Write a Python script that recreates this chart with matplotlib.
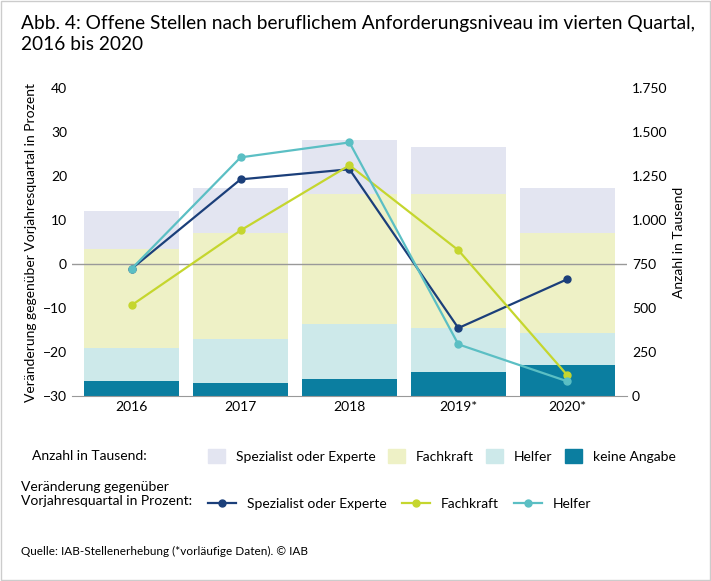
import matplotlib.pyplot as plt
from matplotlib.lines import Line2D
from matplotlib.patches import Patch
import numpy as np

plt.rcParams['font.family'] = ['Lato', 'DejaVu Sans']

years = ['2016', '2017', '2018', '2019*', '2020*']
# Anzahl in Tausend (stacked)
keine_angabe = [88, 75, 100, 137, 175]
helfer_n = [187, 250, 312, 250, 187]
fachkraft_n = [562, 600, 738, 763, 563]
spezialist_n = [213, 258, 308, 267, 258]
# Veraenderung in Prozent
spez_pct = [-1.0, 19.3, 21.6, -14.5, -3.4]
fach_pct = [-9.3, 7.7, 22.5, 3.2, -25.2]
helf_pct = [-1.0, 24.3, 27.7, -18.2, -26.6]

c_spez_bar, c_fach_bar, c_helf_bar, c_keine = '#e3e5f1', '#eef1c6', '#cde9ea', '#0b7ea0'
c_spez, c_fach, c_helf = '#1b3f7a', '#c5d62e', '#5bbfc4'

fig = plt.figure(figsize=(7.11, 5.81), dpi=100)
ax = fig.add_axes([0.101, 0.318, 0.781, 0.530])
ax2 = ax.twinx()
x = np.arange(len(years))
w = 0.87
bottom = np.zeros(len(years))
for vals, col in [(keine_angabe, c_keine), (helfer_n, c_helf_bar),
                  (fachkraft_n, c_fach_bar), (spezialist_n, c_spez_bar)]:
    ax2.bar(x, vals, w, bottom=bottom, color=col, zorder=1)
    bottom += np.array(vals)
ax2.set_ylim(0, 1750)
ax2.set_yticks(range(0, 1751, 250))
ax2.set_yticklabels([f'{v:,}'.replace(',', '.') for v in range(0, 1751, 250)])
ax2.set_ylabel('Anzahl in Tausend', fontsize=10)

ax.set_zorder(ax2.get_zorder() + 1)
ax.patch.set_visible(False)
ax.axhline(0, color='#999999', lw=1)
for vals, col in [(spez_pct, c_spez), (fach_pct, c_fach), (helf_pct, c_helf)]:
    ax.plot(x, vals, color=col, marker='o', ms=5, lw=1.6)
ax.set_ylim(-30, 40)
ax.set_xlim(-0.55, 4.55)
ax.set_xticks(x)
ax.set_xticklabels(years)
ax.set_ylabel('Veränderung gegenüber Vorjahresquartal in Prozent', fontsize=10)
for a in (ax, ax2):
    for s in a.spines.values():
        s.set_visible(False)
    a.tick_params(length=0, labelsize=10)
ax.spines['bottom'].set_visible(True)
ax.spines['bottom'].set_color('#999999')

fig.text(0.03, 0.975, 'Abb. 4: Offene Stellen nach beruflichem Anforderungsniveau im vierten Quartal,\n2016 bis 2020',
         fontsize=13.8, va='top', linespacing=1.35)

h1 = [Patch(color=c) for c in (c_spez_bar, c_fach_bar, c_helf_bar, c_keine)]
fig.text(0.045, 0.215, 'Anzahl in Tausend:', fontsize=10, va='center')
fig.legend(h1, ['Spezialist oder Experte', 'Fachkraft', 'Helfer', 'keine Angabe'],
           loc='center left', bbox_to_anchor=(0.275, 0.215), ncol=4, frameon=False,
           fontsize=10, handlelength=1.2, handleheight=1.2, columnspacing=0.9)
fig.text(0.03, 0.15, 'Veränderung gegenüber\nVorjahresquartal in Prozent:', fontsize=10, va='center')
h2 = [Line2D([], [], color=c, marker='o', ms=5, lw=1.6) for c in (c_spez, c_fach, c_helf)]
fig.legend(h2, ['Spezialist oder Experte', 'Fachkraft', 'Helfer'],
           loc='center left', bbox_to_anchor=(0.275, 0.133), ncol=3, frameon=False,
           fontsize=10, handlelength=2.0, columnspacing=1.1)
fig.text(0.03, 0.045, 'Quelle: IAB-Stellenerhebung (*vorläufige Daten). © IAB', fontsize=8.5)
fig.patches.append(plt.Rectangle((0.002, 0.002), 0.996, 0.996, transform=fig.transFigure,
                                 fill=False, ec='#cccccc', lw=1))
fig.savefig('out.png', dpi=100)
